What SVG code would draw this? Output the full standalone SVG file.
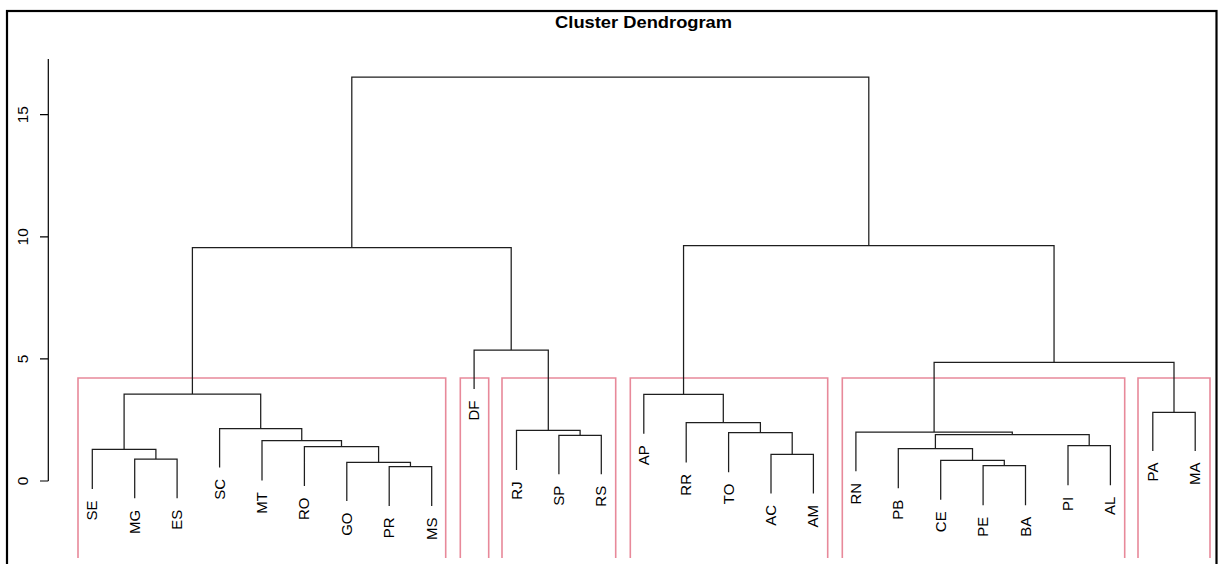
<svg xmlns="http://www.w3.org/2000/svg" width="1219" height="564" viewBox="0 0 1219 564">
<style>
.bg{fill:#fff}
.frame{fill:none;stroke:#000;stroke-width:2.2}
.title{font-family:"Liberation Sans",Arial,sans-serif;font-weight:bold;font-size:17px;fill:#000}
.ax{fill:none;stroke:#000;stroke-width:1.2}
.axl{font-family:"Liberation Sans",Arial,sans-serif;font-size:15.5px;fill:#000;text-anchor:middle}
.lbl{font-family:"Liberation Sans",Arial,sans-serif;font-size:15px;fill:#000;text-anchor:end}
.link{fill:none;stroke:#1e1e1e;stroke-width:1.25}
.box{fill:none;stroke:#E8899A;stroke-width:1.6}
</style>
<rect class="bg" x="0" y="0" width="1219" height="564"/>
<rect class="frame" x="7" y="11" width="1209.5" height="600"/>
<text class="title" x="643.6" y="28" text-anchor="middle" textLength="177" lengthAdjust="spacingAndGlyphs">Cluster Dendrogram</text>
<g id="axis">
<path class="ax" d="M48.3 59 V481 M40 481 H48.3 M40 358.9 H48.3 M40 236.8 H48.3 M40 114.7 H48.3"/>
<text class="axl" transform="translate(28,481) rotate(-90)">0</text>
<text class="axl" transform="translate(28,358.9) rotate(-90)">5</text>
<text class="axl" transform="translate(28,236.8) rotate(-90)">10</text>
<text class="axl" transform="translate(28,114.7) rotate(-90)">15</text>
</g>
<g id="clusters">
<path class="box" d="M78 558 V378 H445.7 V558"/>
<path class="box" d="M460.3 558 V378 H488.7 V558"/>
<path class="box" d="M502 558 V378 H615.7 V558"/>
<path class="box" d="M630.3 558 V378 H827.7 V558"/>
<path class="box" d="M842.3 558 V378 H1124.7 V558"/>
<path class="box" d="M1138 558 V378 H1210 V558"/>
</g>
<g id="connectors">
<path class="link" d="M134.7 498.3 V459 H177.1 V498.3"/>
<path class="link" d="M92.3 489 V449.3 H155.9 V459"/>
<path class="link" d="M389.2 506 V466.7 H431.7 V506"/>
<path class="link" d="M346.8 501 V462.3 H410.45 V466.7"/>
<path class="link" d="M304.4 486 V446.7 H378.6 V462.3"/>
<path class="link" d="M262 480.5 V440.7 H341.5 V446.7"/>
<path class="link" d="M219.6 467.5 V428.7 H301.75 V440.7"/>
<path class="link" d="M124.1 449.3 V394 H260.7 V428.7"/>
<path class="link" d="M558.9 474.3 V435.3 H601.3 V474.3"/>
<path class="link" d="M516.5 470 V430.3 H580.1 V435.3"/>
<path class="link" d="M474.1 389 V350 H548.3 V430.3"/>
<path class="link" d="M192.4 394 V247.5 H511.2 V350"/>
<path class="link" d="M771 493.5 V454.3 H813.4 V493.5"/>
<path class="link" d="M728.6 472.2 V432.7 H792.2 V454.3"/>
<path class="link" d="M686.2 462.5 V422.7 H760.4 V432.7"/>
<path class="link" d="M643.8 433.7 V394.3 H723.3 V422.7"/>
<path class="link" d="M983.1 505.3 V465.7 H1025.5 V505.3"/>
<path class="link" d="M940.7 499.8 V460.3 H1004.3 V465.7"/>
<path class="link" d="M898.3 488.2 V448.7 H972.5 V460.3"/>
<path class="link" d="M1068 485.2 V445.7 H1110.4 V485.2"/>
<path class="link" d="M935.4 448.7 V434.7 H1089.2 V445.7"/>
<path class="link" d="M855.9 471.3 V432 H1012.3 V434.7"/>
<path class="link" d="M1152.8 451 V412.3 H1195.2 V451"/>
<path class="link" d="M934.1 432 V362.3 H1174 V412.3"/>
<path class="link" d="M683.55 394.3 V245.5 H1054.05 V362.3"/>
<path class="link" d="M351.8 247.5 V77 H868.8 V245.5"/>
</g>
<g id="leaf-SE"><text class="lbl" transform="translate(97.3,500.5) rotate(-90)">SE</text></g>
<g id="leaf-MG"><text class="lbl" transform="translate(139.7,509.8) rotate(-90)">MG</text></g>
<g id="leaf-ES"><text class="lbl" transform="translate(182.1,509.8) rotate(-90)">ES</text></g>
<g id="leaf-SC"><text class="lbl" transform="translate(224.6,479) rotate(-90)">SC</text></g>
<g id="leaf-MT"><text class="lbl" transform="translate(267,492) rotate(-90)">MT</text></g>
<g id="leaf-RO"><text class="lbl" transform="translate(309.4,497.5) rotate(-90)">RO</text></g>
<g id="leaf-GO"><text class="lbl" transform="translate(351.8,512.5) rotate(-90)">GO</text></g>
<g id="leaf-PR"><text class="lbl" transform="translate(394.2,517.5) rotate(-90)">PR</text></g>
<g id="leaf-MS"><text class="lbl" transform="translate(436.7,517.5) rotate(-90)">MS</text></g>
<g id="leaf-DF"><text class="lbl" transform="translate(479.1,400.5) rotate(-90)">DF</text></g>
<g id="leaf-RJ"><text class="lbl" transform="translate(521.5,481.5) rotate(-90)">RJ</text></g>
<g id="leaf-SP"><text class="lbl" transform="translate(563.9,485.8) rotate(-90)">SP</text></g>
<g id="leaf-RS"><text class="lbl" transform="translate(606.3,485.8) rotate(-90)">RS</text></g>
<g id="leaf-AP"><text class="lbl" transform="translate(648.8,445.2) rotate(-90)">AP</text></g>
<g id="leaf-RR"><text class="lbl" transform="translate(691.2,474) rotate(-90)">RR</text></g>
<g id="leaf-TO"><text class="lbl" transform="translate(733.6,483.7) rotate(-90)">TO</text></g>
<g id="leaf-AC"><text class="lbl" transform="translate(776,505) rotate(-90)">AC</text></g>
<g id="leaf-AM"><text class="lbl" transform="translate(818.4,505) rotate(-90)">AM</text></g>
<g id="leaf-RN"><text class="lbl" transform="translate(860.9,482.8) rotate(-90)">RN</text></g>
<g id="leaf-PB"><text class="lbl" transform="translate(903.3,499.7) rotate(-90)">PB</text></g>
<g id="leaf-CE"><text class="lbl" transform="translate(945.7,511.3) rotate(-90)">CE</text></g>
<g id="leaf-PE"><text class="lbl" transform="translate(988.1,516.8) rotate(-90)">PE</text></g>
<g id="leaf-BA"><text class="lbl" transform="translate(1030.5,516.8) rotate(-90)">BA</text></g>
<g id="leaf-PI"><text class="lbl" transform="translate(1073,496.7) rotate(-90)">PI</text></g>
<g id="leaf-AL"><text class="lbl" transform="translate(1115.4,496.7) rotate(-90)">AL</text></g>
<g id="leaf-PA"><text class="lbl" transform="translate(1157.8,462.5) rotate(-90)">PA</text></g>
<g id="leaf-MA"><text class="lbl" transform="translate(1200.2,462.5) rotate(-90)">MA</text></g>
</svg>
